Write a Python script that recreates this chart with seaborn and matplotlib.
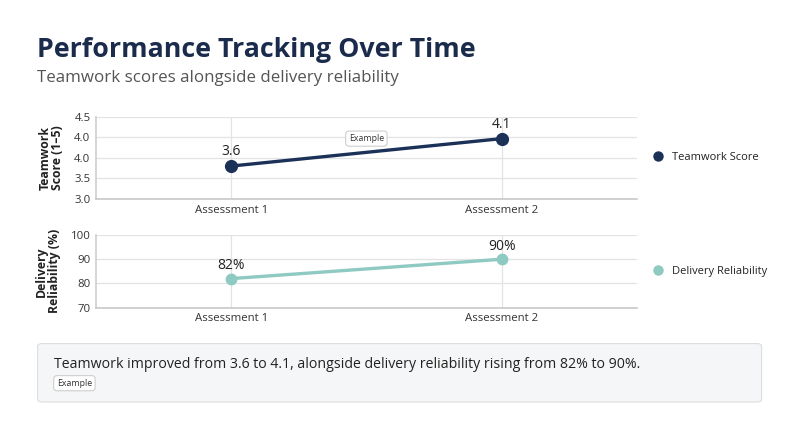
import matplotlib
matplotlib.use("Agg")
import matplotlib.pyplot as plt
import seaborn as sns
import pandas as pd
from matplotlib.lines import Line2D
from matplotlib.patches import FancyBboxPatch

# data
assessments = ["Assessment 1", "Assessment 2"]
teamwork_score = [3.6, 4.1]
delivery_reliability = [82, 90]

teamwork_ticks = [3.0, 3.375, 3.75, 4.125, 4.5]
teamwork_tick_labels = ["3.0", "3.5", "4.0", "4.0", "4.5"]
delivery_ticks = [70, 80, 90, 100]

NAVY = "#1c3158"
TEAL = "#8ecac1"
TITLE = "#1a2b4c"
GRID = "#e3e3e3"

sns.set_theme(style="white")
plt.rcParams["font.family"] = ["Open Sans", "DejaVu Sans"]

df = pd.DataFrame({
    "Assessment": assessments,
    "Teamwork": teamwork_score,
    "Delivery": delivery_reliability,
})
df["pos"] = range(len(df))

fig = plt.figure(figsize=(8, 4.36), dpi=100)
fig.patch.set_facecolor("white")

fig.text(0.046, 0.886, "Performance Tracking Over Time", fontsize=19.3,
         fontweight="bold", color=TITLE, va="center", ha="left")
fig.text(0.046, 0.82, "Teamwork scores alongside delivery reliability",
         fontsize=12.2, color="#555555", va="center", ha="left")

ax1 = fig.add_axes([0.12, 0.5436, 0.676, 0.1888])
ax2 = fig.add_axes([0.12, 0.2943, 0.676, 0.1667])


def style_axis(ax, ticks, labels, ylabel):
    ax.set_xlim(-0.5, 1.5)
    ax.set_xticks(df["pos"])
    ax.set_xticklabels(assessments)
    ax.set_yticks(ticks)
    ax.set_yticklabels(labels)
    ax.set_ylim(ticks[0], ticks[-1])
    ax.grid(True, color=GRID, linewidth=0.9)
    ax.set_axisbelow(True)
    for s in ["top", "right"]:
        ax.spines[s].set_visible(False)
    ax.spines["left"].set_color("#d0d0d0")
    ax.spines["bottom"].set_color("#c8c8c8")
    ax.spines["bottom"].set_linewidth(1.2)
    ax.tick_params(length=0, labelsize=8.2, colors="#333333", pad=4)
    ax.set_xlabel("")
    ax.set_ylabel(ylabel, fontsize=8.8, fontweight="bold", color="#222222",
                  labelpad=7, linespacing=1.0)


sns.lineplot(data=df, x="pos", y="Teamwork", ax=ax1, color=NAVY,
             linewidth=2.4, marker="o", markersize=9.5, markeredgewidth=0)
style_axis(ax1, teamwork_ticks, teamwork_tick_labels, "Teamwork\nScore (1–5)")
for x, v in zip(df["pos"], teamwork_score):
    ax1.annotate(f"{v:.1f}", (x, v), xytext=(0, 5), textcoords="offset points",
                 ha="center", va="bottom", fontsize=10, color="#222222")
ax1.text(0.5, 4.1, "Example", ha="center", va="center", fontsize=6.3,
         color="#333333",
         bbox=dict(boxstyle="round,pad=0.35", fc="white", ec="#c8c8c8", lw=0.7))

sns.lineplot(data=df, x="pos", y="Delivery", ax=ax2, color=TEAL,
             linewidth=2.4, marker="o", markersize=8.5, markeredgewidth=0)
style_axis(ax2, delivery_ticks, [str(t) for t in delivery_ticks],
           "Delivery\nReliability (%)")
for x, v in zip(df["pos"], delivery_reliability):
    ax2.annotate(f"{v}%", (x, v), xytext=(0, 4), textcoords="offset points",
                 ha="center", va="bottom", fontsize=10, color="#222222")

for ax, color, label in [(ax1, NAVY, "Teamwork Score"),
                         (ax2, TEAL, "Delivery Reliability")]:
    handle = Line2D([], [], linestyle="none", marker="o", markersize=7.5,
                    markeredgewidth=0, color=color)
    ax.legend([handle], [label], loc="center left", bbox_to_anchor=(1.0, 0.5),
              frameon=False, fontsize=8, handletextpad=0.3,
              labelcolor="#222222")

box = FancyBboxPatch((0.047, 0.078), 0.905, 0.134,
                     boxstyle="round,pad=0,rounding_size=0.006",
                     transform=fig.transFigure, fc="#f5f6f7", ec="#dddddd",
                     lw=0.8)
fig.add_artist(box)
fig.text(0.068, 0.163,
         "Teamwork improved from 3.6 to 4.1, alongside delivery reliability "
         "rising from 82% to 90%.",
         fontsize=10.2, color="#222222", va="center", ha="left")
fig.text(0.071, 0.121, "Example", fontsize=6.3, color="#333333",
         va="center", ha="left",
         bbox=dict(boxstyle="round,pad=0.35", fc="white", ec="#c8c8c8", lw=0.7))

fig.savefig("out.png", dpi=100, facecolor="white")
